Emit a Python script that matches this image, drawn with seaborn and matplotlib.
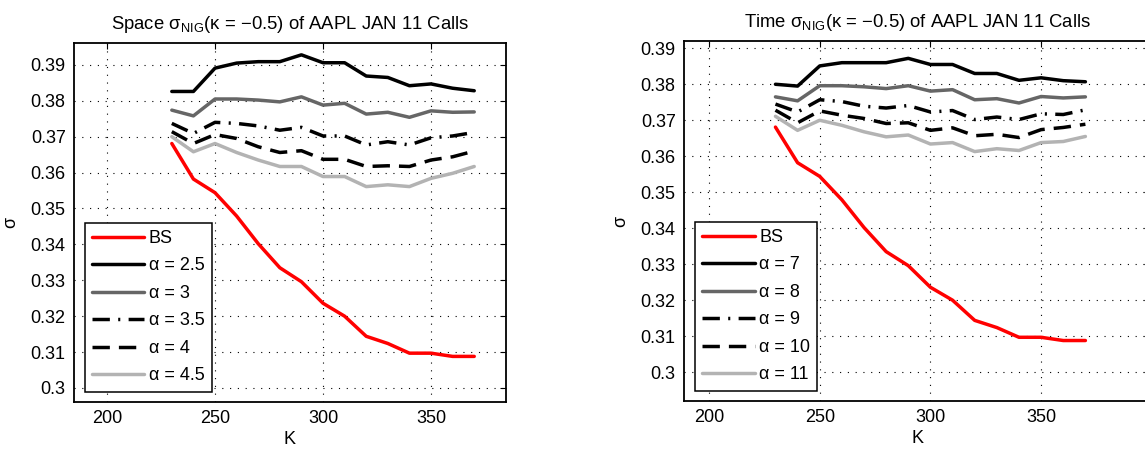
import numpy as np
import seaborn as sns
import matplotlib
matplotlib.use('Agg')
import matplotlib.pyplot as plt
from matplotlib.ticker import FormatStrFormatter

strikes = [230, 240, 250, 260, 270, 280, 290, 300, 310, 320, 330, 340, 350, 360, 370]

sigma_bs = [0.3681, 0.3582, 0.3544, 0.3479, 0.3402, 0.3335, 0.3296, 0.3236, 0.3200,
            0.3144, 0.3124, 0.3097, 0.3097, 0.3088, 0.3088]

# space NIG, alpha = 2.5 .. 4.5
space_alphas = ['2.5', '3', '3.5', '4', '4.5']
space_a25 = [0.3826, 0.3826, 0.3891, 0.3905, 0.3909, 0.3909, 0.3928, 0.3906, 0.3906,
             0.3869, 0.3865, 0.3842, 0.3847, 0.3835, 0.3828]
space_a3 = [0.3774, 0.3758, 0.3805, 0.3805, 0.3802, 0.3797, 0.3811, 0.3788, 0.3793,
            0.3763, 0.3768, 0.3754, 0.3772, 0.3768, 0.3769]
space_a35 = [0.3737, 0.3709, 0.3740, 0.3737, 0.3730, 0.3718, 0.3726, 0.3702, 0.3702,
             0.3677, 0.3686, 0.3677, 0.3697, 0.3702, 0.3712]
space_a4 = [0.3714, 0.3681, 0.3706, 0.3695, 0.3672, 0.3656, 0.3661, 0.3637, 0.3637,
            0.3617, 0.3619, 0.3617, 0.3635, 0.3644, 0.3660]
space_a45 = [0.3700, 0.3658, 0.3681, 0.3656, 0.3635, 0.3617, 0.3617, 0.3589, 0.3589,
             0.3561, 0.3566, 0.3561, 0.3584, 0.3598, 0.3617]

# time NIG, alpha = 7 .. 11
time_alphas = ['7', '8', '9', '10', '11']
time_a7 = [0.3800, 0.3795, 0.3851, 0.3860, 0.3860, 0.3860, 0.3872, 0.3855, 0.3855,
           0.3830, 0.3830, 0.3811, 0.3818, 0.3810, 0.3807]
time_a8 = [0.3765, 0.3754, 0.3796, 0.3796, 0.3793, 0.3788, 0.3796, 0.3781, 0.3785,
           0.3757, 0.3760, 0.3748, 0.3766, 0.3762, 0.3765]
time_a9 = [0.3745, 0.3723, 0.3757, 0.3752, 0.3739, 0.3734, 0.3741, 0.3723, 0.3727,
           0.3702, 0.3709, 0.3702, 0.3718, 0.3716, 0.3729]
time_a10 = [0.3728, 0.3693, 0.3726, 0.3714, 0.3705, 0.3691, 0.3693, 0.3672, 0.3679,
            0.3657, 0.3661, 0.3652, 0.3674, 0.3680, 0.3689]
time_a11 = [0.3711, 0.3672, 0.3700, 0.3686, 0.3668, 0.3654, 0.3659, 0.3634, 0.3638,
            0.3613, 0.3621, 0.3616, 0.3638, 0.3641, 0.3655]

styles = [dict(color='black', linestyle='-'),
          dict(color='#666666', linestyle='-'),
          dict(color='black', linestyle=(0, (5, 2.4, 0.6, 2.4))),
          dict(color='black', linestyle=(0, (5, 2.6))),
          dict(color='#b3b3b3', linestyle='-')]

sns.set_style('white')
plt.rcParams['font.family'] = ['Liberation Sans', 'DejaVu Sans']
plt.rcParams['mathtext.fontset'] = 'custom'
plt.rcParams['mathtext.rm'] = 'Liberation Sans'
plt.rcParams['mathtext.it'] = 'Liberation Sans'
plt.rcParams['text.color'] = 'black'
plt.rcParams['axes.labelcolor'] = 'black'


def panel(ax, series, alphas, title, xlim, ylim):
    sns.lineplot(x=strikes, y=sigma_bs, ax=ax, color='red', lw=2.5, label='BS')
    for vals, a, st in zip(series, alphas, styles):
        sns.lineplot(x=strikes, y=vals, ax=ax, lw=2.5, label=f'α = {a}', **st)
    ax.set_xlim(*xlim)
    ax.set_ylim(*ylim)
    ax.set_xticks([200, 250, 300, 350])
    ax.set_yticks(np.arange(0.30, 0.395, 0.01))
    ax.yaxis.set_major_formatter(FormatStrFormatter('%g'))
    ax.grid(True, linestyle=(0, (1, 6)), color='black', lw=0.8)
    ax.tick_params(direction='in', top=True, right=True, length=4, width=0.8,
                   labelsize=13, colors='black', pad=6)
    for s in ax.spines.values():
        s.set_linewidth(1.3)
        s.set_color('black')
    ax.set_xlabel('K', fontsize=13, labelpad=3)
    ax.set_ylabel('σ', fontsize=13, labelpad=8)
    ax.set_title(title, fontsize=13.3, pad=10)
    leg = ax.legend(loc='lower left', bbox_to_anchor=(0.012, 0.014), fontsize=13,
                    handlelength=2.9, labelspacing=0.58, handletextpad=0.25,
                    borderaxespad=0.3, frameon=True, fancybox=False, edgecolor='black',
                    framealpha=1, borderpad=0.4)
    leg.get_frame().set_linewidth(1.1)


fig = plt.figure(figsize=(11.45, 4.55), dpi=100)
ax1 = fig.add_axes([0.0646, 0.1165, 0.3773, 0.789])
ax2 = fig.add_axes([0.5974, 0.1187, 0.4070, 0.791])

panel(ax1, [space_a25, space_a3, space_a35, space_a4, space_a45], space_alphas,
      r'Space σ$_{\mathrm{NIG}}$(κ = −0.5) of AAPL JAN 11 Calls', (184.7, 384.7), (0.2961, 0.3961))
panel(ax2, [time_a7, time_a8, time_a9, time_a10, time_a11], time_alphas,
      r'Time σ$_{\mathrm{NIG}}$(κ = −0.5) of AAPL JAN 11 Calls', (188.7, 399.2), (0.292, 0.392))

fig.savefig('out.png', dpi=100)
